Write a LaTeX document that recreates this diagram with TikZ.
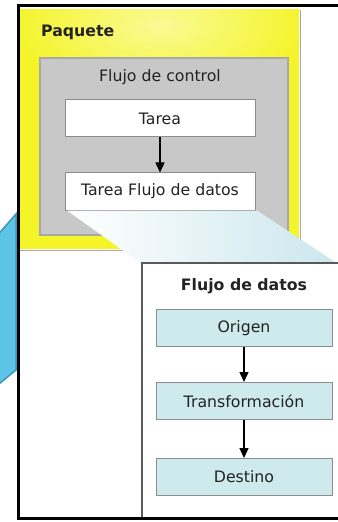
\documentclass[tikz,border=0pt]{standalone}
\usepackage{fontspec}
\setmainfont{DejaVu Sans}
\usetikzlibrary{arrows.meta}
\definecolor{yel}{RGB}{244,244,40}
\definecolor{yellight}{RGB}{250,250,150}
\definecolor{grayfill}{RGB}{200,200,200}
\definecolor{grayedge}{RGB}{168,168,168}
\definecolor{boxedge}{RGB}{140,140,140}
\definecolor{cyanfill}{RGB}{206,234,237}
\definecolor{zoomcyan}{RGB}{200,230,236}
\definecolor{bluefill}{RGB}{92,196,230}
\definecolor{blueedge}{RGB}{60,150,185}
\definecolor{txt}{RGB}{35,35,35}
\tikzset{
  lbl/.style={font=\fontsize{15.8}{18}\selectfont, text=txt, inner sep=0pt},
  wbox/.style={draw=boxedge, line width=1bp, fill=white, minimum width=190bp, minimum height=37bp, lbl},
  cbox/.style={draw=boxedge, line width=1bp, fill=cyanfill, minimum width=176bp, minimum height=37bp, lbl},
  flow/.style={draw=black, line width=1.4bp, -{Triangle[width=9bp,length=10bp]}},
}
\begin{document}
\begin{tikzpicture}[x=1bp,y=-1bp]
\useasboundingbox (0,0) rectangle (337,522);
\begin{scope}
\clip (-4,-4) rectangle (343,528);
% white background
\fill[white] (-4,-4) rectangle (343,528);
% blue shape at left
\filldraw[fill=bluefill, draw=blueedge, line width=1.5bp] (16,214) -- (-12,246) -- (-12,393) -- (16,370) -- cycle;
% yellow package
\begin{scope}
  \clip (20,10) rectangle (299,249);
  \fill[yel] (20,10) rectangle (299,249);
  \shade[inner color=yellight, outer color=yel] (160,25) ellipse (150 and 70);
\end{scope}
\draw[grayedge, line width=1bp] (300,10) -- (300,250) -- (20,250);
\node[lbl, font=\fontsize{15.8}{18}\selectfont\bfseries, anchor=west] (paquete) at (41,32) {Paquete};
% control flow
\filldraw[fill=grayfill, draw=grayedge, line width=1.2bp] (40,58) rectangle (288,235);
\node[lbl] (control) at (160,77) {Flujo de control};
\node[wbox] (tarea) at (160,118.5) {Tarea};
\node[wbox] (tfd) at (160,191.5) {Tarea Flujo de datos};
\draw[flow] (tarea.south) -- (tfd.north);
% zoom trapezoid
\shade[left color=white, right color=zoomcyan] (67,210.5) -- (257,210.5) -- (350,272) -- (142,264) -- cycle;
% data flow box (open to the right)
\fill[white] (142,263) rectangle (350,518);
\draw[black!65, line width=1.2bp] (350,263) -- (142,263) -- (142,518);
\node[lbl, font=\fontsize{15.8}{18}\selectfont\bfseries] (datos) at (244,286) {Flujo de datos};
\node[cbox] (origen) at (244,328) {Origen};
\node[cbox] (transf) at (244,401) {Transformación};
\node[cbox] (destino) at (244,477) {Destino};
\draw[flow] (origen.south) -- (transf.north);
\draw[flow] (transf.south) -- (destino.north);
% outer frame
\draw[black, line width=3bp] (350,5.5) -- (18,5.5) -- (18,518.5) -- (350,518.5);
\end{scope}
\end{tikzpicture}
\end{document}
